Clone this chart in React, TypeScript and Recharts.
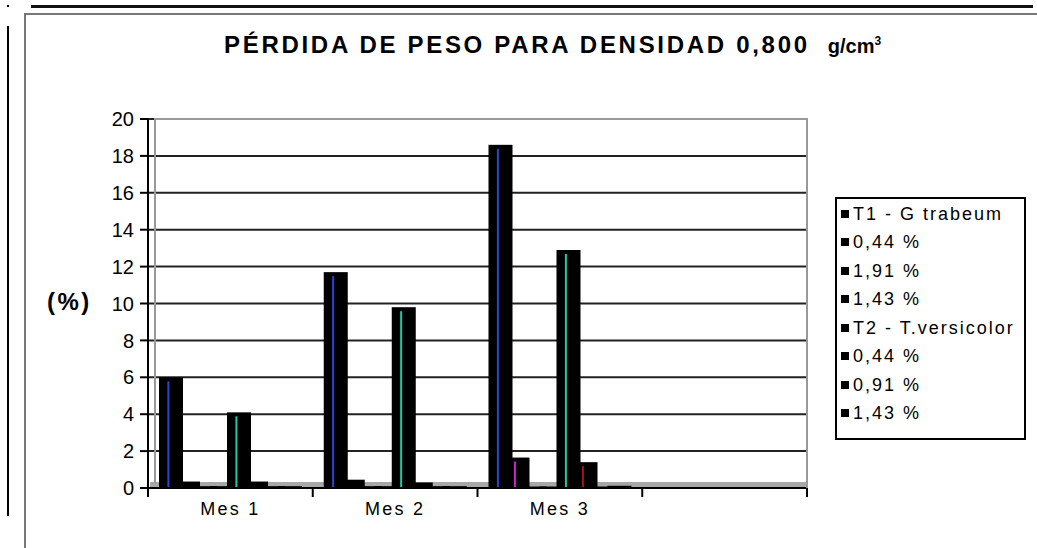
import { Bar, BarChart, CartesianGrid, XAxis, YAxis } from 'recharts';

// Values (percent weight loss), one array per series.
const MONTHS = ['Mes 1', 'Mes 2', 'Mes 3', ''];
const T1_TRABEUM = [6.0, 11.7, 18.6, null];
const T1_044 = [0.35, 0.45, 1.65, null];
const T1_191 = [0.1, 0.1, 0.08, null];
const T1_143 = [0.1, 0.1, 0.08, null];
const T2_VERSICOLOR = [4.1, 9.8, 12.9, null];
const T2_044 = [0.35, 0.3, 1.4, null];
const T2_091 = [0.1, 0.1, 0.08, null];
const T2_143 = [0.1, 0.1, 0.12, null];
const Y_TICKS = [0, 2, 4, 6, 8, 10, 12, 14, 16, 18, 20];

const SERIES = [
  { key: 's1', name: 'T1 - G trabeum', values: T1_TRABEUM, stripe: '#2a46d8' },
  { key: 's2', name: '0,44 %', values: T1_044, stripe: '#d020d8' },
  { key: 's3', name: '1,91 %', values: T1_191, stripe: '#888888' },
  { key: 's4', name: '1,43 %', values: T1_143, stripe: '#3040c0' },
  { key: 's5', name: 'T2 - T.versicolor', values: T2_VERSICOLOR, stripe: '#20c8a8' },
  { key: 's6', name: '0,44 %', values: T2_044, stripe: '#a01818' },
  { key: 's7', name: '0,91 %', values: T2_091, stripe: '#888888' },
  { key: 's8', name: '1,43 %', values: T2_143, stripe: '#3060e0' },
];

const data = MONTHS.map((month, i) => {
  const row: Record<string, string | number | null> = { month };
  SERIES.forEach((s) => {
    row[s.key] = s.values[i];
  });
  return row;
});

const FONT = "'Liberation Sans', Arial, sans-serif";

function StripedBar(props: any) {
  const { x, y, width, height, stripe } = props;
  if (!height || height <= 0) return null;
  return (
    <g>
      <rect x={x} y={y} width={width} height={height} fill="#000" />
      {height > 12 && (
        <rect x={x + width * 0.35} y={y + 4} width={2} height={height - 5} fill={stripe} />
      )}
    </g>
  );
}

function MonthTick(props: any) {
  const { x, y, payload, index } = props;
  const half = payload?.offset ?? 82;
  const last = index === MONTHS.length - 1;
  return (
    <g>
      <line x1={x - half} y1={y} x2={x - half} y2={y + 9} stroke="#000" strokeWidth={2} />
      {last && <line x1={x + half} y1={y} x2={x + half} y2={y + 9} stroke="#000" strokeWidth={2} />}
      <text x={x} y={y + 27} textAnchor="middle" fontSize={18} fontFamily={FONT} fill="#000" letterSpacing={2.2}>
        {payload.value}
      </text>
    </g>
  );
}

function Swatch() {
  return (
    <span
      style={{
        display: 'inline-block',
        width: 9,
        height: 9,
        background: '#000',
        marginRight: 3,
        boxShadow: 'inset -3px -3px 0 -2px #fff',
      }}
    />
  );
}

export default function App() {
  return (
    <div
      style={{
        position: 'absolute',
        left: 0,
        top: 0,
        width: 1037,
        height: 548,
        background: '#fff',
        overflow: 'hidden',
        fontFamily: FONT,
      }}
    >
      {/* page decorations */}
      <div style={{ position: 'absolute', left: 7, top: 5, width: 2, height: 2, background: '#000' }} />
      <div style={{ position: 'absolute', left: 31, top: 5, width: 1002, height: 3, background: '#111' }} />
      <div style={{ position: 'absolute', left: 7, top: 26, width: 2, height: 490, background: '#000' }} />
      <div
        style={{
          position: 'absolute',
          left: 24,
          top: 13,
          width: 1020,
          height: 540,
          borderLeft: '2px solid #777',
          borderTop: '2px solid #777',
        }}
      />

      {/* floor of the plot */}
      <div style={{ position: 'absolute', left: 150, top: 482, width: 657, height: 6, background: '#a8a8a8' }} />

      <div
        style={{
          position: 'absolute',
          left: 224,
          top: 31,
          whiteSpace: 'nowrap',
          color: '#000',
        }}
      >
        <span style={{ fontWeight: 700, fontSize: 24, letterSpacing: 2.7 }}>PÉRDIDA DE PESO PARA DENSIDAD 0,800</span>
        <span style={{ fontWeight: 700, fontSize: 20, marginLeft: 18 }}>
          g/cm<sup style={{ fontSize: 12 }}>3</sup>
        </span>
      </div>

      <div style={{ position: 'absolute', left: 47, top: 288, fontWeight: 700, fontSize: 24, letterSpacing: 2.5 }}>(%)</div>

      <div style={{ position: 'absolute', left: 0, top: 0 }}>
        <BarChart
          width={1037}
          height={548}
          data={data}
          margin={{ top: 119, right: 230, bottom: 0, left: 0 }}
          barSize={24}
          barGap={-7}
        >
          <CartesianGrid vertical={false} stroke="#222" strokeWidth={2} />
          <XAxis
            dataKey="month"
            interval={0}
            height={60}
            tickSize={0}
            tickMargin={0}
            axisLine={{ stroke: '#000', strokeWidth: 2 }}
            tick={<MonthTick />}
          />
          <YAxis
            width={148}
            domain={[0, 20]}
            ticks={Y_TICKS}
            interval={0}
            tickSize={8}
            tickMargin={6}
            axisLine={{ stroke: '#000', strokeWidth: 2 }}
            tickLine={{ stroke: '#000', strokeWidth: 2 }}
            tick={{ fill: '#000', fontSize: 20, fontFamily: FONT }}
          />
          {SERIES.map((s) => (
            <Bar
              key={s.key}
              dataKey={s.key}
              name={s.name}
              isAnimationActive={false}
              shape={(p: any) => <StripedBar {...p} stripe={s.stripe} />}
            />
          ))}
        </BarChart>
      </div>

      {/* plot frame (back wall, top and right edges) */}
      <div style={{ position: 'absolute', left: 154, top: 118, width: 2, height: 365, background: '#999' }} />
      <div style={{ position: 'absolute', left: 154, top: 118, width: 654, height: 2, background: '#999' }} />
      <div style={{ position: 'absolute', left: 806, top: 118, width: 2, height: 370, background: '#999' }} />

      {/* legend */}
      <div
        style={{
          position: 'absolute',
          left: 835,
          top: 197,
          width: 187,
          height: 238,
          border: '2px solid #000',
          boxSizing: 'content-box',
          paddingTop: 1,
        }}
      >
        {SERIES.map((s) => (
          <div
            key={s.key}
            style={{
              height: 28.5,
              display: 'flex',
              alignItems: 'center',
              paddingLeft: 4,
              fontSize: 18,
              letterSpacing: 2,
              whiteSpace: 'nowrap',
            }}
          >
            <Swatch />
            {s.name}
          </div>
        ))}
      </div>
    </div>
  );
}
